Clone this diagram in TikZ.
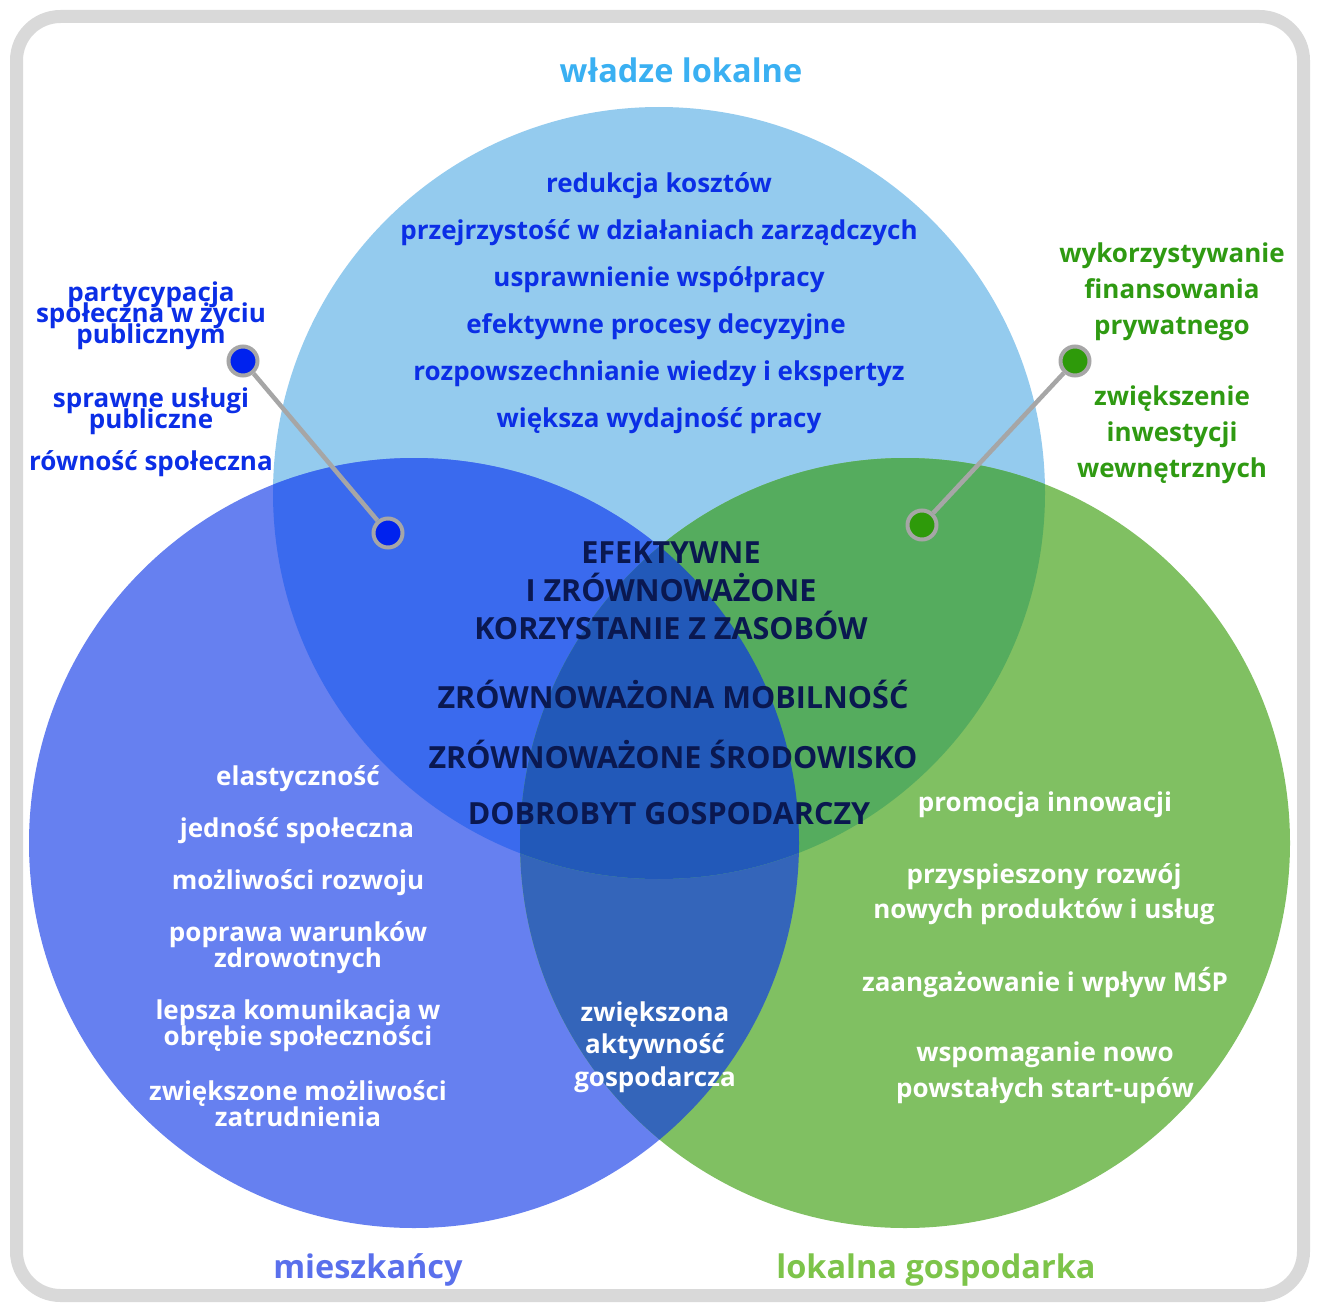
\documentclass[tikz,border=0pt]{standalone}
\usepackage{fontspec}
\setmainfont{Open Sans}
\definecolor{framegray}{HTML}{D9D9D9}
\definecolor{ctop}{HTML}{94CBEE}
\definecolor{cleft}{HTML}{6680F0}
\definecolor{cright}{HTML}{80C062}
\definecolor{ctl}{HTML}{3A6AEE}
\definecolor{ctr}{HTML}{55AC5E}
\definecolor{clr}{HTML}{3465BA}
\definecolor{call}{HTML}{2259B9}
\definecolor{txtblue}{HTML}{0B2EE6}
\definecolor{txtgreen}{HTML}{2F9A12}
\definecolor{txtnavy}{HTML}{0A1850}
\definecolor{ttlblue}{HTML}{3AB0F2}
\definecolor{ttlviolet}{HTML}{5A70EC}
\definecolor{ttlgreen}{HTML}{7DC44A}
\definecolor{pingray}{HTML}{A6A6A6}
\definecolor{pinblue}{HTML}{0022EE}
\definecolor{pingreen}{HTML}{2E9A0A}
\newcommand\tightlines{\lineskiplimit=-100pt\lineskip=0pt}
\begin{document}
\begin{tikzpicture}[x=1pt,y=-1pt,
  lbl/.style={inner sep=0pt, align=center, yshift=-3pt, font=\bfseries\fontsize{26}{21}\selectfont\tightlines},
  ttl/.style={inner sep=0pt, yshift=-2pt, font=\bfseries\fontsize{32.5}{36}\selectfont},
  caps/.style={lbl, text=txtnavy, font=\bfseries\fontsize{30.5}{38}\selectfont\tightlines},
  bluetxt/.style={lbl, text=txtblue},
  greentxt/.style={lbl, text=txtgreen, font=\bfseries\fontsize{26}{36}\selectfont\tightlines},
  whitetxt/.style={lbl, text=white, font=\bfseries\fontsize{26}{26}\selectfont\tightlines},
  pin/.style={circle, draw=pingray, line width=4pt, minimum size=29pt, inner sep=0pt},
  pinline/.style={draw=pingray, line width=4.5pt}]
\useasboundingbox (0,0) rectangle (1317,1303);

% outer rounded frame
\draw[framegray, line width=13pt, rounded corners=44pt] (16.5,16.5) rectangle (1303.5,1295.5);

% the three circles
\coordinate (T) at (659,493);
\coordinate (L) at (414,843);
\coordinate (R) at (905,843);
\fill[ctop] (T) circle (386);
\fill[cleft] (L) circle (385);
\fill[cright] (R) circle (385);
\begin{scope}
  \clip (L) circle (385);
  \fill[clr] (R) circle (385);
\end{scope}
\begin{scope}
  \clip (T) circle (386);
  \fill[ctl] (L) circle (385);
  \fill[ctr] (R) circle (385);
  \clip (L) circle (385);
  \fill[call] (R) circle (385);
\end{scope}

% circle titles
\node[ttl, text=ttlblue] (tTop) at (681,68) {władze lokalne};
\node[ttl, text=ttlviolet] (tLeft) at (368,1268) {mieszkańcy};
\node[ttl, text=ttlgreen] (tRight) at (936,1268) {lokalna gospodarka};

% local authorities
\node[bluetxt] (a1) at (659,183) {redukcja kosztów};
\node[bluetxt] (a2) at (659,230) {przejrzystość w działaniach zarządczych};
\node[bluetxt] (a3) at (659,277) {usprawnienie współpracy};
\node[bluetxt] (a4) at (656,324) {efektywne procesy decyzyjne};
\node[bluetxt] (a5) at (659,371) {rozpowszechnianie wiedzy i ekspertyz};
\node[bluetxt] (a6) at (659,418) {większa wydajność pracy};

% authorities & residents
\node[bluetxt] (b1) at (151,313) {partycypacja\\społeczna w życiu\\publicznym};
\node[bluetxt] (b2) at (151,408) {sprawne usługi\\publiczne};
\node[bluetxt] (b3) at (151,461) {równość społeczna};

% authorities & economy
\node[greentxt] (c1) at (1172,289) {wykorzystywanie\\finansowania\\prywatnego};
\node[greentxt] (c2) at (1172,432) {zwiększenie\\inwestycji\\wewnętrznych};

% pins
\node[pin, fill=pinblue] (pL1) at (243,361) {};
\node[pin, fill=pinblue] (pL2) at (388,533) {};
\node[pin, fill=pingreen] (pR1) at (1075,361) {};
\node[pin, fill=pingreen] (pR2) at (922,525) {};
\draw[pinline] (pL1) -- (pL2);
\draw[pinline] (pR1) -- (pR2);

% common goals
\node[caps] (d1) at (671,588) {EFEKTYWNE\\I ZRÓWNOWAŻONE\\KORZYSTANIE Z ZASOBÓW};
\node[caps] (d2) at (673,691) {ZRÓWNOWAŻONA MOBILNOŚĆ};
\node[caps] (d3) at (673,751) {ZRÓWNOWAŻONE ŚRODOWISKO};
\node[caps] (d4) at (669,811) {DOBROBYT GOSPODARCZY};

% residents
\node[whitetxt] (e1) at (298,776) {elastyczność};
\node[whitetxt] (e2) at (297,828) {jedność społeczna};
\node[whitetxt] (e3) at (298,880) {możliwości rozwoju};
\node[whitetxt] (e4) at (298,945) {poprawa warunków\\zdrowotnych};
\node[whitetxt] (e5) at (298,1023) {lepsza komunikacja w\\obrębie społeczności};
\node[whitetxt] (e6) at (298,1101) {zwiększone możliwości\\zatrudnienia};

% residents & economy
\node[whitetxt, font=\bfseries\fontsize{26}{32.5}\selectfont\tightlines] (f1) at (655,1044) {zwiększona\\aktywność\\gospodarcza};

% local economy
\node[whitetxt] (g1) at (1045,802) {promocja innowacji};
\node[whitetxt, font=\bfseries\fontsize{26}{35}\selectfont\tightlines] (g2) at (1044,891) {przyspieszony rozwój\\nowych produktów i usług};
\node[whitetxt] (g3) at (1045,980) {zaangażowanie i wpływ MŚP};
\node[whitetxt, font=\bfseries\fontsize{26}{36}\selectfont\tightlines] (g4) at (1045,1070) {wspomaganie nowo\\powstałych start-upów};
\end{tikzpicture}
\end{document}
